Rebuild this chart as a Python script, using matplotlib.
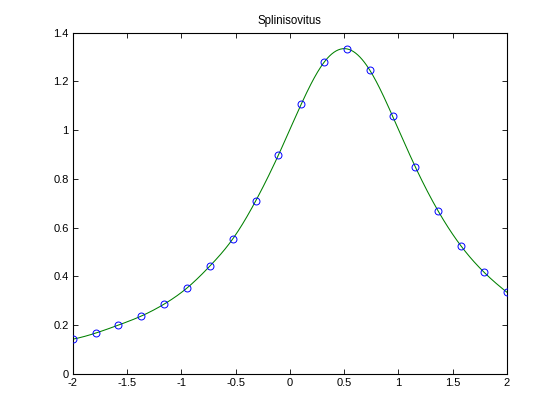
import numpy as np
import matplotlib
matplotlib.use("Agg")
import matplotlib.pyplot as plt

x_data = [-2.0, -1.7895, -1.5789, -1.3684, -1.1579, -0.9474, -0.7368, -0.5263, -0.3158, -0.1053,
          0.1053, 0.3158, 0.5263, 0.7368, 0.9474, 1.1579, 1.3684, 1.5789, 1.7895, 2.0]
y_data = [0.142, 0.167, 0.200, 0.237, 0.286, 0.352, 0.442, 0.553, 0.708, 0.897,
          1.106, 1.278, 1.333, 1.246, 1.057, 0.848, 0.667, 0.524, 0.417, 0.335]
x_ticks = [-2, -1.5, -1, -0.5, 0, 0.5, 1, 1.5, 2]
x_tick_labels = ["-2", "-1.5", "-1", "-0.5", "0", "0.5", "1", "1.5", "2"]
y_ticks = [0, 0.2, 0.4, 0.6, 0.8, 1.0, 1.2, 1.4]
y_tick_labels = ["0", "0.2", "0.4", "0.6", "0.8", "1", "1.2", "1.4"]


def not_a_knot_spline(x, y, xq):
    x = np.asarray(x, float)
    y = np.asarray(y, float)
    n = len(x)
    h = np.diff(x)
    A = np.zeros((n, n))
    b = np.zeros(n)
    for i in range(1, n - 1):
        A[i, i - 1] = h[i - 1]
        A[i, i] = 2 * (h[i - 1] + h[i])
        A[i, i + 1] = h[i]
        b[i] = 6 * ((y[i + 1] - y[i]) / h[i] - (y[i] - y[i - 1]) / h[i - 1])
    A[0, 0] = h[1]
    A[0, 1] = -(h[0] + h[1])
    A[0, 2] = h[0]
    A[-1, -3] = h[-1]
    A[-1, -2] = -(h[-2] + h[-1])
    A[-1, -1] = h[-2]
    M = np.linalg.solve(A, b)
    idx = np.clip(np.searchsorted(x, xq) - 1, 0, n - 2)
    hi = h[idx]
    t1 = x[idx + 1] - xq
    t0 = xq - x[idx]
    return (M[idx] * t1 ** 3 / (6 * hi) + M[idx + 1] * t0 ** 3 / (6 * hi)
            + (y[idx] / hi - M[idx] * hi / 6) * t1
            + (y[idx + 1] / hi - M[idx + 1] * hi / 6) * t0)


plt.rcParams['font.family'] = ['Liberation Sans', 'DejaVu Sans']
fig = plt.figure(figsize=(5.6, 4.2), dpi=100)
ax = fig.add_axes([0.13, 0.11, 0.775, 0.8125])

xx = np.linspace(x_data[0], x_data[-1], 400)
yy = not_a_knot_spline(x_data, y_data, xx)
ax.plot(x_data, y_data, 'o', mfc='none', mec='#0000ff', ms=5, mew=0.7, zorder=3)
ax.plot(xx, yy, '-', color='#008000', lw=0.75, zorder=2)

ax.set_xlim(-2, 2)
ax.set_ylim(0, 1.4)
ax.set_xticks(x_ticks)
ax.set_xticklabels(x_tick_labels)
ax.set_yticks(y_ticks)
ax.set_yticklabels(y_tick_labels)
ax.tick_params(direction='in', length=3.5, width=0.6, labelsize=8,
               top=True, right=True, pad=3)
for s in ax.spines.values():
    s.set_linewidth(0.8)
ax.set_title("Splinisovitus", fontsize=8.3, pad=6)

fig.savefig("out.png", dpi=100)
